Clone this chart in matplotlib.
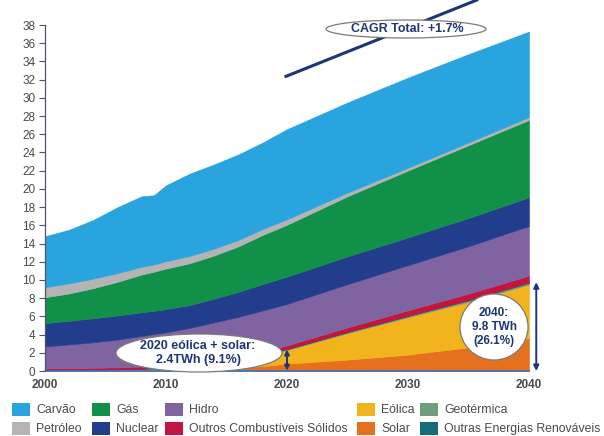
import matplotlib
matplotlib.use("Agg")
import matplotlib.pyplot as plt
from matplotlib.patches import Ellipse, Rectangle

plt.rcParams['font.family'] = ['Liberation Sans', 'DejaVu Sans']

years = [2000, 2002, 2004, 2006, 2008, 2009, 2010, 2012, 2014, 2016, 2018, 2020, 2025, 2030, 2035, 2040]
solar = [0.0, 0.0, 0.0, 0.01, 0.01, 0.02, 0.03, 0.1, 0.19, 0.33, 0.55, 0.8, 1.25, 1.8, 2.6, 3.6]
eolica = [0.05, 0.07, 0.08, 0.11, 0.18, 0.2, 0.27, 0.42, 0.69, 0.91, 1.16, 1.5, 2.9, 4.1, 5.0, 5.9]
geotermica = [0.05, 0.05, 0.06, 0.06, 0.06, 0.07, 0.07, 0.07, 0.08, 0.08, 0.09, 0.09, 0.11, 0.13, 0.15, 0.17]
outras_renov = [0.0, 0.0, 0.0, 0.0, 0.01, 0.01, 0.01, 0.01, 0.01, 0.02, 0.02, 0.02, 0.03, 0.04, 0.05, 0.06]
outros_solidos = [0.2, 0.2, 0.21, 0.22, 0.24, 0.25, 0.27, 0.3, 0.33, 0.36, 0.38, 0.4, 0.5, 0.6, 0.7, 0.75]
hidro = [2.4, 2.6, 2.8, 3.05, 3.35, 3.5, 3.6, 3.85, 4.05, 4.25, 4.45, 4.55, 4.75, 4.95, 5.2, 5.45]
nuclear = [2.55, 2.6, 2.65, 2.65, 2.6, 2.55, 2.55, 2.5, 2.6, 2.75, 2.9, 3.0, 3.05, 3.05, 3.1, 3.15]
gas = [2.85, 3.0, 3.3, 3.7, 4.15, 4.3, 4.45, 4.6, 4.75, 5.0, 5.4, 5.7, 6.6, 7.35, 8.0, 8.5]
petroleo = [1.1, 1.1, 1.05, 0.95, 0.85, 0.8, 0.8, 0.8, 0.75, 0.7, 0.65, 0.6, 0.4, 0.3, 0.3, 0.3]
carvao = [5.6, 5.9, 6.45, 7.25, 7.75, 7.6, 8.35, 9.05, 9.25, 9.4, 9.5, 9.9, 9.9, 9.9, 9.7, 9.4]

yticks = list(range(0, 39, 2))
xticks = [2000, 2010, 2020, 2030, 2040]

c_carvao = '#2aa4de'
c_pet = '#b4b4b4'
c_gas = '#11904a'
c_nuc = '#213d8b'
c_hid = '#8064a1'
c_sol_out = '#c3153d'
c_eol = '#f2b41c'
c_solar = '#e5711e'
c_geo = '#6f9e7e'
c_outr = '#166c78'
navy = '#1f3478'

W, H = 604, 436
fig = plt.figure(figsize=(W / 100, H / 100), dpi=100)
ax = fig.add_axes([45 / W, 1 - 371 / H, (529 - 45) / W, (371 - 25) / H])

series = [solar, eolica, geotermica, outras_renov, outros_solidos, hidro, nuclear, gas, petroleo, carvao]
colors = [c_solar, c_eol, c_geo, c_outr, c_sol_out, c_hid, c_nuc, c_gas, c_pet, c_carvao]
polys = ax.stackplot(years, *series, colors=colors, linewidth=0.4)
for p, c in zip(polys, colors):
    p.set_edgecolor(c)

ax.set_xlim(2000, 2040)
ax.set_ylim(0, 38)
ax.set_yticks(yticks)
ax.set_xticks(xticks)
ax.set_yticklabels([str(v) for v in yticks], fontsize=8.5, color='#4a4a4a')
ax.set_xticklabels([str(v) for v in xticks], fontsize=8.5, color='#4a4a4a', fontweight='bold')
ax.tick_params(axis='y', length=4, width=0.8, color='#50546a', pad=3)
ax.tick_params(axis='x', length=0, pad=6)
for s in ['top', 'right']:
    ax.spines[s].set_visible(False)
ax.spines['left'].set_color('#50546a')
ax.spines['left'].set_linewidth(0.9)
ax.spines['bottom'].set_color('#3f6fc0')
ax.spines['bottom'].set_linewidth(1.2)
ax.spines['bottom'].set_zorder(5)

# CAGR line
ax.plot([2019.8, 2035.8], [32.3, 40.8], color=navy, lw=2.2, clip_on=False, zorder=6, solid_capstyle='butt')

def fx(x):
    return x / W

def fy(y):
    return 1 - y / H

def ellipse(cx, cy, w, h):
    e = Ellipse((fx(cx), fy(cy)), w / W, h / H, transform=fig.transFigure,
                facecolor='white', edgecolor='#7a7a7a', lw=0.9, zorder=10)
    fig.patches.append(e)

ellipse(406, 29, 160, 18)
fig.text(fx(407), fy(29), 'CAGR Total: +1.7%', ha='center', va='center',
         fontsize=9, fontweight='bold', color=navy, zorder=11)

ellipse(199, 353, 166, 38)
fig.text(fx(198), fy(353), '2020 eólica + solar:\n2.4TWh (9.1%)', ha='center', va='center',
         fontsize=9, fontweight='bold', color=navy, linespacing=1.15, zorder=11)

ellipse(494, 327, 68, 66)
fig.text(fx(494), fy(327), '2040:\n9.8 TWh\n(26.1%)', ha='center', va='center',
         fontsize=8.5, fontweight='bold', color=navy, linespacing=1.2, zorder=11)

# arrows
ax.annotate('', xy=(2020, 0.05), xytext=(2020, 2.35),
            arrowprops=dict(arrowstyle='<|-|>', color=navy, lw=1.4, mutation_scale=7,
                            shrinkA=0, shrinkB=0), annotation_clip=False, zorder=8)
ax.annotate('', xy=(2040.6, 0.0), xytext=(2040.6, 9.75),
            arrowprops=dict(arrowstyle='<|-|>', color=navy, lw=1.4, mutation_scale=8,
                            shrinkA=0, shrinkB=0), annotation_clip=False, zorder=8)

# legend (manual)
legend_items = [
    ('Carvão', c_carvao, 12, 403), ('Gás', c_gas, 92, 403), ('Hidro', c_hid, 165, 403),
    ('Eólica', c_eol, 357, 403), ('Geotérmica', c_geo, 420, 403),
    ('Petróleo', c_pet, 12, 422), ('Nuclear', c_nuc, 92, 422),
    ('Outros Combustíveis Sólidos', c_sol_out, 165, 422),
    ('Solar', c_solar, 357, 422), ('Outras Energias Renováveis', c_outr, 420, 422),
]
for label, col, x, y in legend_items:
    r = Rectangle((fx(x), fy(y + 13)), 18 / W, 13 / H, transform=fig.transFigure,
                  facecolor=col, edgecolor='none')
    fig.patches.append(r)
    fig.text(fx(x + 24), fy(y + 6.5), label, ha='left', va='center', fontsize=8.8, color='#4a4a4a')

fig.savefig('out.png', dpi=100)
